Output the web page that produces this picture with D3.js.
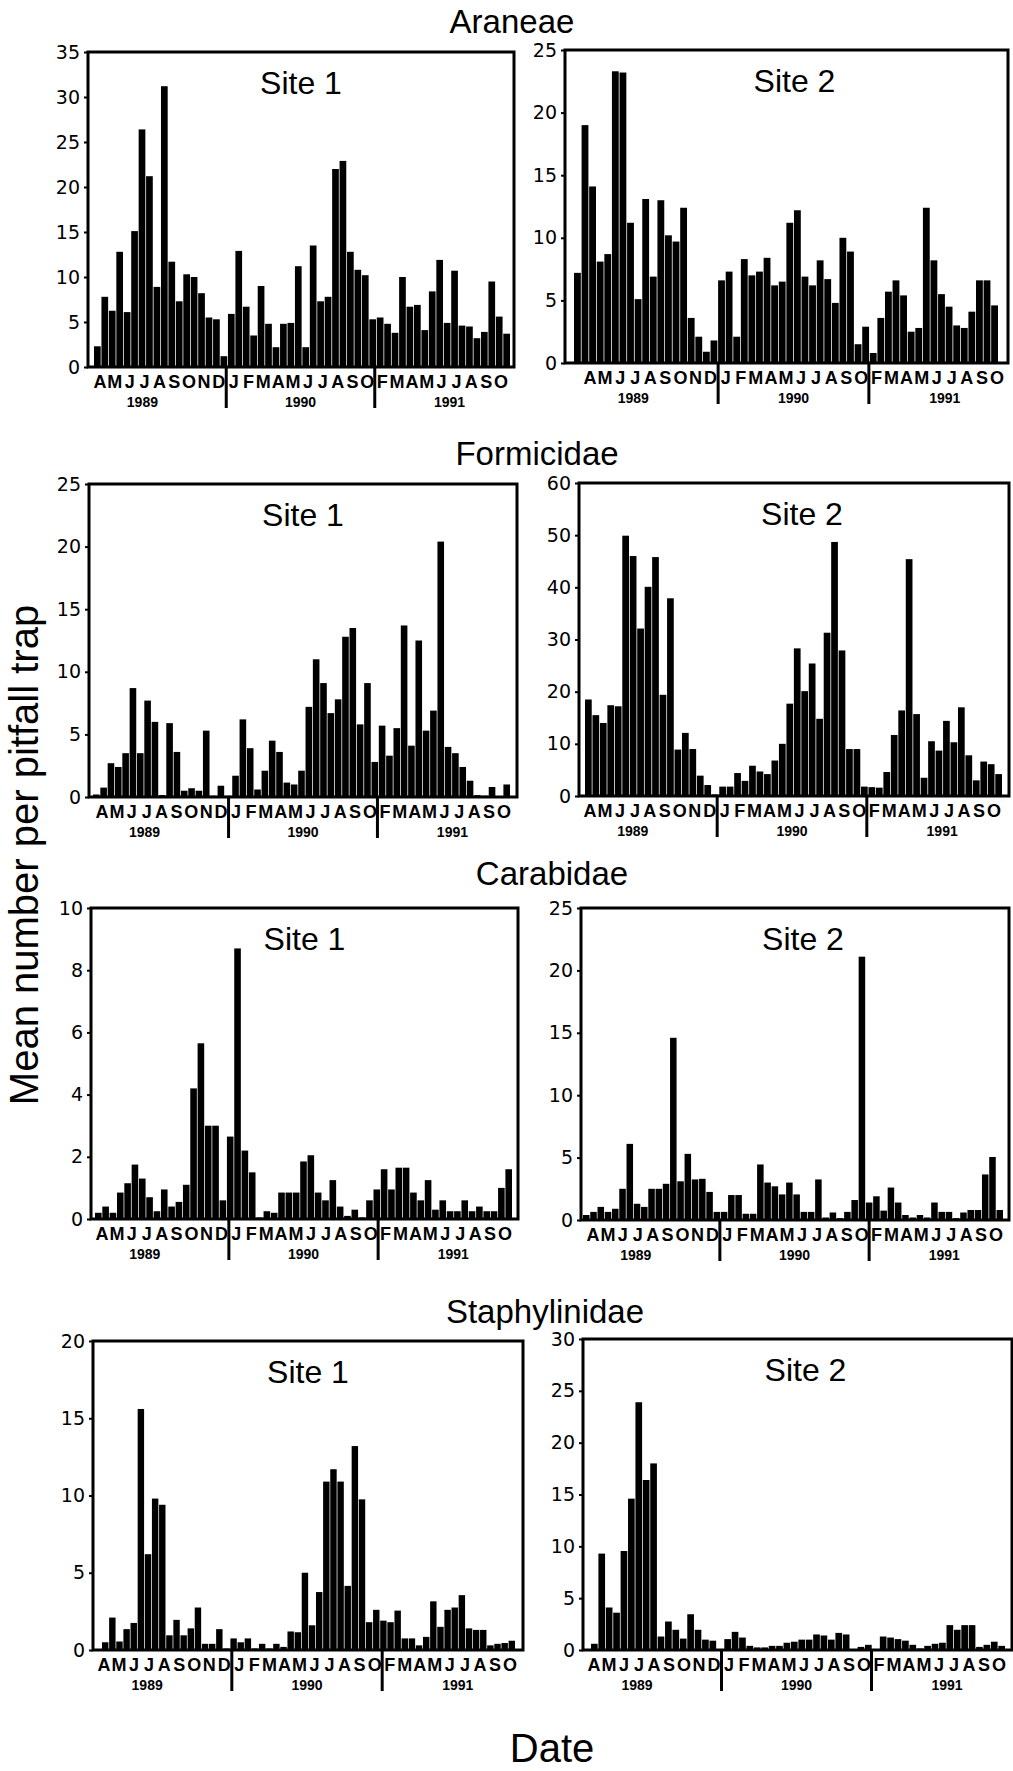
<!DOCTYPE html>
<html>
<head>
<meta charset="utf-8">
<script src="https://cdn.jsdelivr.net/npm/d3@7"></script>
<style>
  body { margin: 0; background: #fff; }
  svg { display: block; }
</style>
</head>
<body>
<svg id="chart" width="1013" height="1771"></svg>
<script>
// values, one bar per sampling date
const araneae1 = [2.3,7.8,6.25,12.8,6.1,15.1,26.4,21.2,8.9,31.2,11.7,7.3,10.3,10.0,8.2,5.5,5.3,1.2,5.9,12.9,6.7,3.5,9.0,4.8,2.2,4.8,4.9,11.2,2.2,13.5,7.3,7.8,22.0,22.9,12.8,10.8,10.2,5.3,5.5,4.8,3.8,10.0,6.7,6.9,4.1,8.4,11.9,4.9,10.7,4.6,4.5,3.2,3.9,9.5,5.6,3.7]
const araneae2 = [7.2,19.0,14.1,8.1,8.7,23.3,23.2,11.2,5.1,13.1,6.9,13.0,10.2,9.7,12.4,3.6,2.1,0.9,1.8,6.6,7.3,2.1,8.3,7.0,7.3,8.4,6.2,6.5,11.2,12.2,6.9,6.2,8.2,6.7,4.8,10.0,8.9,1.5,2.9,0.8,3.6,5.7,6.6,5.4,2.5,2.8,12.4,8.2,5.5,4.5,3.0,2.8,4.1,6.6,6.6,4.6]
const formicidae1 = [0.2,0.75,2.7,2.4,3.5,8.7,3.5,7.7,6.0,0.15,5.9,3.6,0.5,0.7,0.5,5.3,0.1,0.9,0.1,1.7,6.2,3.9,0.6,2.1,4.5,3.6,1.15,1.0,2.1,7.2,11.0,9.1,6.7,7.8,12.8,13.5,5.8,9.1,2.8,5.7,3.3,5.5,13.7,4.1,12.5,5.3,6.9,20.4,4.0,3.5,2.4,1.3,0.15,0.1,0.8,0.05,1.0]
const formicidae2 = [18.5,15.5,14.0,17.4,17.2,49.9,46.0,32.1,40.1,45.8,19.4,37.9,8.9,12.1,9.0,3.9,2.1,0.3,1.8,1.8,4.4,2.9,5.8,4.7,4.2,6.8,10.0,17.7,28.3,20.1,25.4,14.8,31.3,48.7,27.9,9.0,9.0,1.8,1.7,1.6,4.6,11.7,16.4,45.4,15.7,3.5,10.5,8.7,14.4,10.3,17.0,7.8,3.0,6.6,6.1,4.2]
const carabidae1 = [0.2,0.4,0.2,0.85,1.15,1.75,1.3,0.7,0.25,0.95,0.4,0.55,1.1,4.2,5.65,3.0,3.0,0.6,2.65,8.7,2.2,1.5,0.05,0.25,0.2,0.85,0.85,0.85,1.85,2.05,0.85,0.6,1.25,0.4,0.1,0.3,0.05,0.6,0.95,1.6,0.95,1.65,1.65,0.85,0.6,1.25,0.3,0.6,0.25,0.25,0.6,0.25,0.4,0.25,0.25,1.0,1.6]
const carabidae2 = [0.4,0.65,1.05,0.65,0.9,2.5,6.1,1.3,1.05,2.5,2.5,2.9,14.6,3.1,5.3,3.25,3.3,2.25,0.65,0.65,2.0,2.0,0.5,0.5,4.45,3.0,2.7,2.05,3.0,2.05,0.65,0.65,3.25,0.2,0.6,0.15,0.65,1.6,21.1,1.4,1.9,0.75,2.6,1.4,0.4,0.2,0.4,0.2,1.4,0.65,0.65,0.15,0.6,0.8,0.8,3.65,5.05,0.8]
const staph1 = [0.5,2.1,0.55,1.35,1.75,15.6,6.2,9.8,9.4,0.95,1.95,0.95,1.4,2.75,0.4,0.4,1.35,0.1,0.75,0.5,0.75,0.1,0.4,0.1,0.4,0.2,1.2,1.15,5.0,1.6,3.75,10.9,11.7,10.9,4.15,13.2,9.75,1.8,2.6,1.9,1.8,2.55,0.75,0.75,0.3,0.85,3.15,1.5,2.6,2.75,3.55,1.4,1.3,1.3,0.3,0.4,0.45,0.6]
const staph2 = [0.6,9.3,4.1,3.6,9.55,14.6,23.9,16.4,18.0,1.3,2.75,1.95,1.1,3.45,1.95,1.0,0.9,0.05,1.05,1.75,1.2,0.4,0.25,0.25,0.4,0.4,0.7,0.8,1.0,1.0,1.5,1.4,1.0,1.65,1.5,0.05,0.3,0.5,0.05,1.3,1.2,1.05,0.9,0.5,0.15,0.4,0.6,0.7,2.4,1.95,2.4,2.4,0.3,0.5,0.8,0.4]

const ticks35 = [0,5,10,15,20,25,30,35]
const ticks25 = [0,5,10,15,20,25]
const ticks60 = [0,10,20,30,40,50,60]
const ticks10 = [0,2,4,6,8,10]
const ticks20 = [0,5,10,15,20]
const ticks30 = [0,5,10,15,20,25,30]

const months1989 = ["A","M","J","J","A","S","O","N","D"]
const months1990 = ["J","F","M","A","M","J","J","A","S","O"]
const months1991 = ["F","M","A","M","J","J","A","S","O"]
const years = ["1989","1990","1991"]

const families = ["Araneae","Formicidae","Carabidae","Staphylinidae"]
const sites = ["Site 1","Site 2"]

// layout only
var rows = [
  {tx: 512, ty: 33},
  {tx: 537, ty: 465},
  {tx: 552, ty: 885},
  {tx: 545, ty: 1323}
]
var panels = [
  {row: 0, s: 0, data: araneae1, ticks: ticks35, box: [88, 52, 514, 367], bar: [6, 4], lab: [12, 13]},
  {row: 0, s: 1, data: araneae2, ticks: ticks25, box: [565, 50, 1008, 363], bar: [9, 10], lab: [25, 11]},
  {row: 1, s: 0, data: formicidae1, ticks: ticks25, box: [89, 484, 517, 797], bar: [4, 7], lab: [13, 13]},
  {row: 1, s: 1, data: formicidae2, ticks: ticks60, box: [579, 483, 1009, 796], bar: [6, 7], lab: [11, 15]},
  {row: 2, s: 0, data: carabidae1, ticks: ticks10, box: [91, 908, 518, 1219], bar: [4, 6], lab: [11, 13]},
  {row: 2, s: 1, data: carabidae2, ticks: ticks25, box: [581, 908, 1009, 1220], bar: [2, 6], lab: [12, 13]},
  {row: 3, s: 0, data: staph1, ticks: ticks20, box: [93, 1341, 523, 1650], bar: [9, 8], lab: [11, 13]},
  {row: 3, s: 1, data: staph2, ticks: ticks30, box: [583, 1339, 1012, 1650], bar: [8, 7], lab: [11, 13]}
]

var svg = d3.select("#chart")
var font = "'Liberation Sans', Arial, Helvetica, sans-serif"

rows.forEach(function (r, i) {
  svg.append("text")
    .attr("x", r.tx).attr("y", r.ty)
    .attr("text-anchor", "middle")
    .attr("font-family", font).attr("font-size", 33)
    .text(families[i])
})

var monthLabels = months1989.concat(months1990, months1991)

panels.forEach(function (p) {
  var left = p.box[0], top = p.box[1], right = p.box[2], bottom = p.box[3]
  var g = svg.append("g")

  var x = d3.scaleBand()
    .domain(d3.range(p.data.length))
    .range([left + p.bar[0], right - p.bar[1]])
    .paddingInner(0.1)

  var y = d3.scaleLinear()
    .domain([0, d3.max(p.ticks)])
    .range([bottom, top])

  g.selectAll("rect.bar")
    .data(p.data)
    .enter().append("rect")
    .attr("class", "bar")
    .attr("x", (d, i) => x(i))
    .attr("width", x.bandwidth())
    .attr("y", d => y(d))
    .attr("height", d => bottom - y(d))
    .attr("fill", "#000")

  g.append("rect")
    .attr("x", left).attr("y", top)
    .attr("width", right - left).attr("height", bottom - top)
    .attr("fill", "none").attr("stroke", "#000").attr("stroke-width", 3)

  var axis = g.append("g")
    .attr("transform", "translate(" + left + ",0)")
    .call(d3.axisLeft(y).tickValues(p.ticks).tickSize(4).tickSizeOuter(0).tickPadding(4))
  axis.select(".domain").remove()
  axis.selectAll("line").attr("stroke-width", 2)
  axis.selectAll("text")
    .attr("font-family", "'DejaVu Sans', sans-serif")
    .attr("font-size", 19)
    .attr("fill", "#000")

  g.append("text")
    .attr("x", (left + right) / 2 + (p.s ? 8 : 0))
    .attr("y", top + 42)
    .attr("text-anchor", "middle")
    .attr("font-family", font).attr("font-size", 32)
    .text(sites[p.s])

  // month letters under the axis
  var m = d3.scalePoint()
    .domain(d3.range(monthLabels.length))
    .range([left + p.lab[0], right - p.lab[1]])

  g.selectAll("text.month")
    .data(monthLabels)
    .enter().append("text")
    .attr("class", "month")
    .attr("x", (d, i) => m(i))
    .attr("y", bottom + 21)
    .attr("text-anchor", "middle")
    .attr("font-family", font).attr("font-weight", "bold").attr("font-size", 18)
    .text(d => d)

  var step = m.step()
  var n1 = months1989.length, n2 = months1990.length
  var seps = [m(n1 - 1) + step / 2, m(n1 + n2 - 1) + step / 2]
  seps.forEach(function (sx) {
    g.append("line")
      .attr("x1", sx).attr("x2", sx)
      .attr("y1", bottom).attr("y2", bottom + 41)
      .attr("stroke", "#000").attr("stroke-width", 3)
  })

  var groups = [[0, n1 - 1], [n1, n1 + n2 - 1], [n1 + n2, monthLabels.length - 1]]
  var shift = [-17, 0, 8]
  g.selectAll("text.year")
    .data(years)
    .enter().append("text")
    .attr("class", "year")
    .attr("x", (d, i) => (m(groups[i][0]) + m(groups[i][1])) / 2 + shift[i])
    .attr("y", bottom + 40)
    .attr("text-anchor", "middle")
    .attr("font-family", font).attr("font-weight", "bold").attr("font-size", 14)
    .text(d => d)
})

svg.append("text")
  .attr("transform", "translate(38,855) rotate(-90)")
  .attr("text-anchor", "middle")
  .attr("font-family", font).attr("font-size", 40)
  .text("Mean number per pitfall trap")

svg.append("text")
  .attr("x", 552).attr("y", 1762)
  .attr("text-anchor", "middle")
  .attr("font-family", font).attr("font-size", 40)
  .text("Date")
</script>
</body>
</html>
